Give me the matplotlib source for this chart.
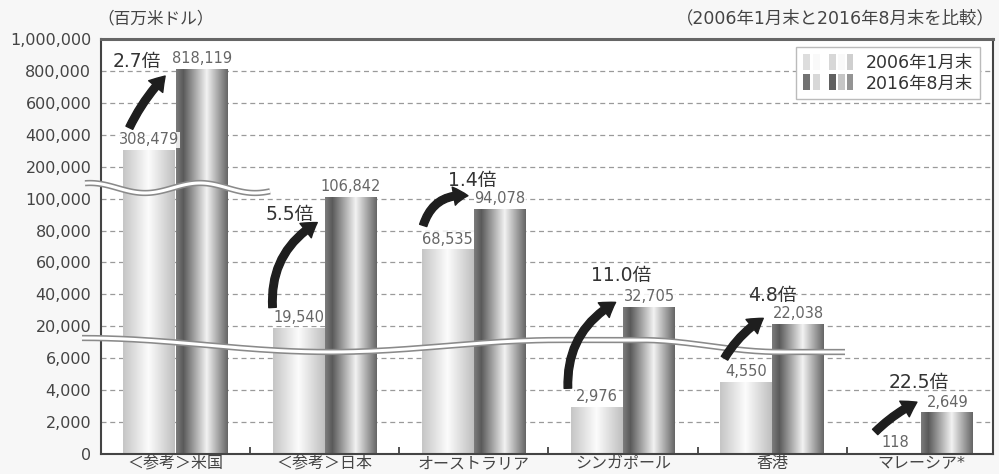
import numpy as np
import matplotlib.pyplot as plt
from matplotlib.colors import LinearSegmentedColormap
from matplotlib.patches import FancyArrowPatch, Rectangle
from matplotlib.legend_handler import HandlerBase
from matplotlib.lines import Line2D

plt.rcParams['font.family'] = ['DejaVu Sans', 'Noto Sans CJK JP']

# data (百万米ドル)
countries = ['＜参考＞米国', '＜参考＞日本', 'オーストラリア', 'シンガポール', '香港', 'マレーシア*']
jan2006 = [308479, 19540, 68535, 2976, 4550, 118]
aug2016 = [818119, 106842, 94078, 32705, 22038, 2649]
ratios = ['2.7倍', '5.5倍', '1.4倍', '11.0倍', '4.8倍', '22.5倍']
yticks = [0, 2000, 4000, 6000, 20000, 40000, 60000, 80000, 100000,
          200000, 400000, 600000, 800000, 1000000]

# annotation placement (x = group index, y = value)
arrow_tail = [(-0.31, 444000), (0.65, 31800), (1.66, 83200), (2.63, 4120), (3.68, 6000), (4.69, 1380)]
arrow_head = [(-0.07, 768000), (0.95, 85000), (1.96, 109000), (2.95, 35000), (3.94, 25000), (4.97, 3250)]
arrow_rad = [-0.08, -0.3, -0.4, -0.3, -0.12, -0.08]
ratio_pos = [(-0.26, 862000), (0.765, 90000), (1.99, 156000), (2.99, 51800), (4.0, 39400), (4.98, 4500)]

steps = np.arange(len(yticks))


def fwd(v):
    return np.interp(v, yticks, steps)


def inv(s):
    return np.interp(s, steps, yticks)


light = LinearSegmentedColormap.from_list('light', [(0, '#c6c6c6'), (0.48, '#fcfcfc'), (1, '#bdbdbd')])
dark = LinearSegmentedColormap.from_list('dark', [(0, '#7a7a7a'), (0.13, '#5a5a5a'), (0.58, '#f2f2f2'), (1, '#606060')])
grad = np.linspace(0, 1, 256).reshape(1, -1)

fig = plt.figure(figsize=(9.99, 4.74), dpi=100, facecolor='#f7f7f7')
ax = fig.add_axes([101/999, 20/474, 892/999, 415/474])
ax.set_facecolor('white')
ax.set_yscale('function', functions=(fwd, inv))

x = np.arange(len(countries))
w = 0.35
b1 = ax.bar(x - w/2, jan2006, w, color='none', edgecolor='none', zorder=2)
b2 = ax.bar(x + w/2, aug2016, w, color='none', edgecolor='none', zorder=2)
for bars, cm in [(b1, light), (b2, dark)]:
    for p in bars:
        x0 = p.get_x()
        im = ax.imshow(grad, cmap=cm, aspect='auto', extent=(x0, x0 + p.get_width(), 0, 1),
                       transform=ax.get_xaxis_transform(), zorder=2, interpolation='bilinear')
        im.set_clip_path(p)

# value labels
for i in range(len(countries)):
    for xv, v in [(x[i] - w/2, jan2006[i]), (x[i] + w/2, aug2016[i])]:
        ax.annotate(f'{v:,}', (xv, v), xytext=(0, 1.5), textcoords='offset points',
                    ha='center', va='bottom', fontsize=10.5, color='#666666', zorder=6,
                    bbox=dict(boxstyle='square,pad=0.05', fc='white', ec='none', alpha=0.85))

# arrows and ratios
for t, h, r, lab, pos in zip(arrow_tail, arrow_head, arrow_rad, ratios, ratio_pos):
    arr = FancyArrowPatch(t, h, connectionstyle=f'arc3,rad={r}',
                          arrowstyle='simple,head_length=0.85,head_width=1.1,tail_width=0.45',
                          mutation_scale=12, color='#1e1e1e', zorder=5, shrinkA=0, shrinkB=0)
    ax.add_patch(arr)
    ax.text(pos[0], pos[1], lab, ha='center', va='center', fontsize=13.5, color='#333333', zorder=6)

# break marks
def fig_line(px, py, lw_out=4.5, lw_in=2.2):
    fx = np.asarray(px) / 999
    fy = 1 - np.asarray(py) / 474
    ax.add_line(Line2D(fx, fy, transform=fig.transFigure, color='#8a8a8a', lw=lw_out,
                       clip_on=False, zorder=4, solid_capstyle='butt'))
    ax.add_line(Line2D(fx, fy, transform=fig.transFigure, color='white', lw=lw_in,
                       clip_on=False, zorder=4, solid_capstyle='butt'))

bx = np.linspace(85, 270, 120)
fig_line(bx, 188 + 5 * np.cos(2 * np.pi * (bx - 145) / 110))

kx = [82, 330, 560, 640, 780, 845]
ky = [338, 352, 340, 340, 352, 352]
lx, ly = [], []
for j in range(len(kx) - 1):
    tt = np.linspace(0, 1, 40)
    lx.extend(kx[j] + (kx[j+1] - kx[j]) * tt)
    ly.extend(ky[j] + (ky[j+1] - ky[j]) * (1 - np.cos(np.pi * tt)) / 2)
fig_line(lx, ly)

# axes styling
ax.set_xlim(-0.5, 5.48)
ax.set_ylim(0, 1000000)
ax.set_yticks(yticks)
ax.set_yticklabels([f'{v:,}' for v in yticks])
ax.yaxis.set_minor_locator(plt.NullLocator())
ax.set_xticks(x)
ax.set_xticklabels(countries)
ax.set_xticks(x[:-1] + 0.5, minor=True)
ax.tick_params(axis='y', length=0, pad=7, labelsize=11.5, labelcolor='#444444')
ax.tick_params(axis='x', which='major', length=0, pad=1.5, labelsize=11.5, labelcolor='#444444')
ax.tick_params(axis='x', which='minor', direction='in', length=5, width=1.2, color='#333333')
for yv in yticks[1:-1]:
    ax.axhline(yv, color='#9a9a9a', lw=0.9, ls=(0, (4, 3)), zorder=1)
for s in ax.spines.values():
    s.set_color('#444444')
    s.set_linewidth(1.5)
ax.spines['top'].set_linewidth(2.2)
ax.spines['top'].set_color('#666666')


class StripeHandler(HandlerBase):
    def __init__(self, cmap):
        super().__init__()
        self.cmap = cmap

    def create_artists(self, legend, orig_handle, xdescent, ydescent, width, height, fontsize, trans):
        arts = []
        for f, c in [(0.0, 0.2), (0.2, 0.5), (0.5, 0.15), (0.67, 0.45), (0.84, 0.85)]:
            arts.append(Rectangle((-xdescent + f * width, -ydescent - 1), 0.13 * width, height + 2,
                                  fc=self.cmap(c), ec='none', transform=trans))
        return arts


h1, h2 = Rectangle((0, 0), 1, 1), Rectangle((0, 0), 1, 1)
leg = ax.legend([h1, h2], ['2006年1月末', '2016年8月末'],
                handler_map={h1: StripeHandler(light), h2: StripeHandler(dark)},
                loc='upper right', bbox_to_anchor=(0.985, 0.981), borderaxespad=0,
                fancybox=False, edgecolor='#bbbbbb', framealpha=1, fontsize=12.5,
                handlelength=3.0, handleheight=0.8, labelspacing=0.15, handletextpad=0.6,
                borderpad=0.4, labelcolor='#333333')
leg.set_zorder(7)

fig.text(97/999, 1 - 18/474, '（百万米ドル）', ha='left', va='center', fontsize=12, color='#444444')
fig.text(995/999, 1 - 18/474, '（2006年1月末と2016年8月末を比較）', ha='right', va='center',
         fontsize=12.5, color='#444444')

fig.savefig('out.png', dpi=100, facecolor=fig.get_facecolor())
